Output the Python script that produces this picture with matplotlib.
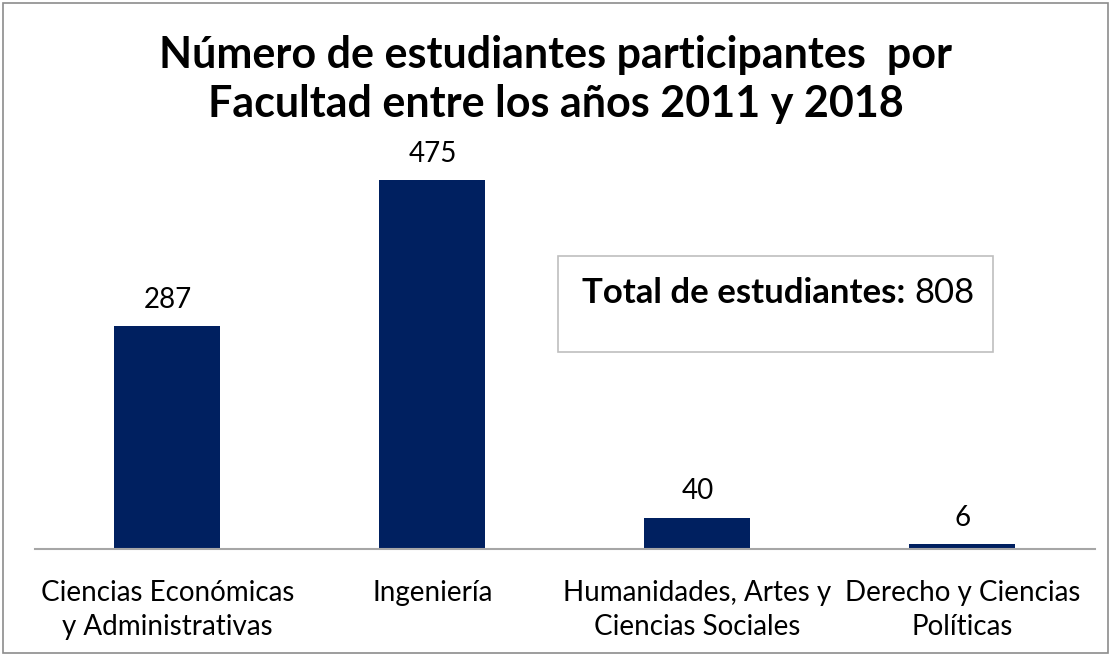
import matplotlib
matplotlib.use("Agg")
import matplotlib.pyplot as plt
from matplotlib.patches import Rectangle
from matplotlib.transforms import blended_transform_factory

categories = ["Ciencias Económicas\ny Administrativas", "Ingeniería",
              "Humanidades, Artes y\nCiencias Sociales", "Derecho y Ciencias\nPolíticas"]
values = [287, 475, 40, 6]
total = 808
title_lines = ["Número de estudiantes participantes  por",
               "Facultad entre los años 2011 y 2018"]

FONT = "Lato"
plt.rcParams['font.family'] = [FONT, 'DejaVu Sans']

W, H = 1111, 656
fig = plt.figure(figsize=(W / 100, H / 100), dpi=100)
fig.patch.set_facecolor("white")


def fy(py):
    return 1 - py / H


# outer border
fig.add_artist(Rectangle((0.003, 0.004), 0.994, 0.992, transform=fig.transFigure,
                         fill=False, edgecolor="#8c8c8c", linewidth=1.2))

ax = fig.add_axes([0.0315, 0.1631, 0.954, 0.5915])
x = list(range(len(categories)))
ax.bar(x, values, width=0.4, color="#002060")
ax.set_xlim(-0.5, len(categories) - 0.5)
ax.set_ylim(0, 500)
for s in ["top", "right", "left"]:
    ax.spines[s].set_visible(False)
ax.spines["bottom"].set_color("#a6a6a6")
ax.spines["bottom"].set_linewidth(1.5)
ax.set_yticks([])
ax.set_xticks([])

# category labels: line baselines at ~601 px and ~635 px
tr = blended_transform_factory(ax.transData, fig.transFigure)
for xi, lab in zip(x, categories):
    for k, line in enumerate(lab.split("\n")):
        ax.text(xi, fy(601 + 34 * k), line, transform=tr, ha="center", va="baseline",
                fontsize=20, clip_on=False)

for xi, v in zip(x, values):
    ax.annotate(str(v), (xi, v), xytext=(0, 13.5), textcoords="offset points",
                ha="center", va="baseline", fontsize=20)

# title, two lines
fig.text(0.5, fy(68), title_lines[0], ha="center", va="baseline", fontsize=31,
         fontweight="bold")
fig.text(0.5, fy(117), title_lines[1], ha="center", va="baseline", fontsize=31,
         fontweight="bold")

# text box
fig.add_artist(Rectangle((558 / W, fy(352)), (993 - 558) / W, (352 - 256) / H,
                         transform=fig.transFigure, fill=False,
                         edgecolor="#bfbfbf", linewidth=1.2))
t1 = fig.text(582 / W, fy(303), "Total de estudiantes: ", ha="left", va="baseline",
              fontsize=25, fontweight="bold")
fig.canvas.draw()
bb = t1.get_window_extent()
fig.text(bb.x1 / W, fy(303), f"{total}", ha="left", va="baseline", fontsize=25)

fig.savefig("out.png", dpi=100, facecolor="white")
